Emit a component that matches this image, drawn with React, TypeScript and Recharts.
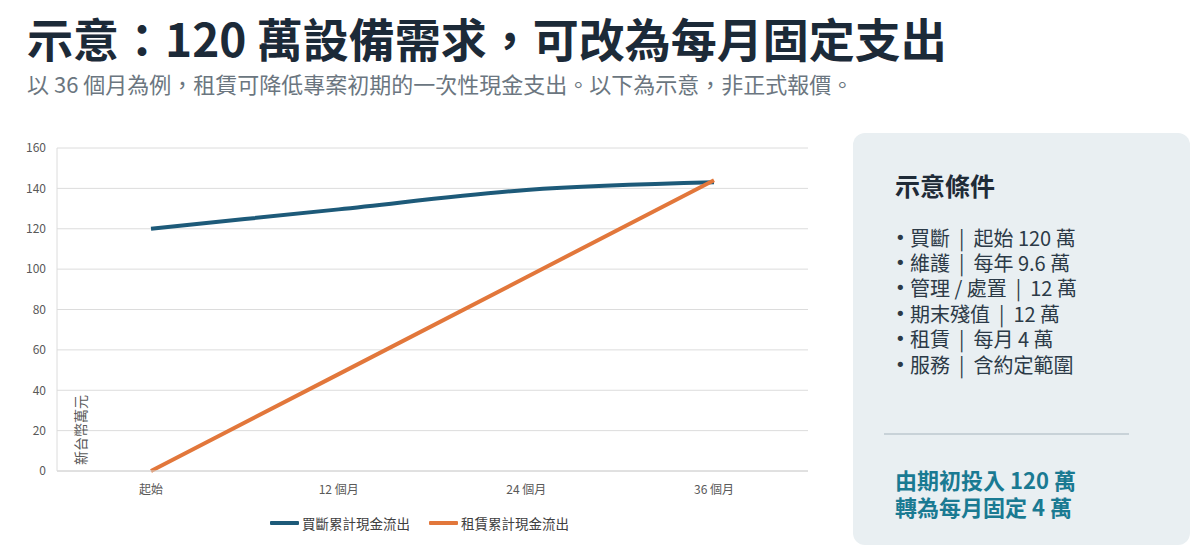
import { LineChart, Line, XAxis, YAxis, CartesianGrid, Legend } from "recharts"

const periods = ["起始", "12 個月", "24 個月", "36 個月"]
const buyCumulative = [120, 129.6, 139.2, 143]
const leaseCumulative = [0, 48, 96, 144]
const yTicks = [0, 20, 40, 60, 80, 100, 120, 140, 160]

const seriesNames = { buy: "買斷累計現金流出", lease: "租賃累計現金流出" }
const conditions = [
  ["買斷", "起始 120 萬"],
  ["維護", "每年 9.6 萬"],
  ["管理 / 處置", "12 萬"],
  ["期末殘值", "12 萬"],
  ["租賃", "每月 4 萬"],
  ["服務", "含約定範圍"],
]
const takeaway = ["由期初投入 120 萬", "轉為每月固定 4 萬"]

const data = periods.map((name, i) => ({
  name,
  buy: buyCumulative[i],
  lease: leaseCumulative[i],
}))

const FONT = '"Noto Sans CJK TC", "Noto Sans", sans-serif'
const BUY = "#1d5a79"
const LEASE = "#e2773b"

function ChartLegend() {
  const items = [
    { label: seriesNames.buy, color: BUY },
    { label: seriesNames.lease, color: LEASE },
  ]
  return (
    <div style={{ display: "flex", alignItems: "center", fontFamily: FONT, fontSize: 13.5, color: "#404040", lineHeight: "20px" }}>
      {items.map((it, i) => (
        <div key={it.label} style={{ display: "flex", alignItems: "center", marginRight: i === 0 ? 19 : 0 }}>
          <span style={{ display: "inline-block", width: 29, height: 4, background: it.color, marginRight: 3, borderRadius: 1 }} />
          <span>{it.label}</span>
        </div>
      ))}
    </div>
  )
}

export default function App() {
  return (
    <div style={{ position: "absolute", left: 0, top: 0, width: 1200, height: 553, background: "#fff", fontFamily: FONT, overflow: "hidden" }}>
      <div style={{ position: "absolute", left: 27, top: 12, fontSize: 46, fontWeight: 700, color: "#1c2a38", whiteSpace: "nowrap", lineHeight: "50px" }}>
        示意：120 萬設備需求，可改為每月固定支出
      </div>
      <div style={{ position: "absolute", left: 27, top: 70, fontSize: 22, color: "#6b7680", whiteSpace: "nowrap", lineHeight: "26px" }}>
        以 36 個月為例，租賃可降低專案初期的一次性現金支出。以下為示意，非正式報價。
      </div>

      <div style={{ position: "absolute", left: 0, top: 0 }}>
        <LineChart width={820} height={553} data={data} margin={{ top: 148, right: 12, left: 17, bottom: 32 }}>
          <CartesianGrid vertical={false} stroke="#dcdcdc" />
          <XAxis
            dataKey="name"
            padding={{ left: 94, right: 94 }}
            axisLine={{ stroke: "#d4d4d4" }}
            tickLine={false}
            tickMargin={8}
            height={30}
            tick={{ fill: "#595959", fontSize: 12, fontFamily: FONT }}
          />
          <YAxis
            width={40}
            domain={[0, 160]}
            ticks={yTicks}
            axisLine={{ stroke: "#dcdcdc" }}
            tickLine={false}
            tickMargin={5}
            tick={{ fill: "#595959", fontSize: 12, fontFamily: FONT }}
          />
          <Legend
            content={() => <ChartLegend />}
            wrapperStyle={{ left: 270, top: 513, width: 340 }}
          />
          <Line
            type="monotone"
            dataKey="buy"
            name={seriesNames.buy}
            stroke={BUY}
            strokeWidth={4}
            dot={false}
            isAnimationActive={false}
          />
          <Line
            type="linear"
            dataKey="lease"
            name={seriesNames.lease}
            stroke={LEASE}
            strokeWidth={4}
            dot={false}
            isAnimationActive={false}
          />
        </LineChart>
      </div>

      <div style={{ position: "absolute", left: 80, top: 430, transform: "translate(-50%, -50%) rotate(-90deg)", fontSize: 14, color: "#595959", whiteSpace: "nowrap", lineHeight: "16px" }}>
        新台幣萬元
      </div>

      <div style={{ position: "absolute", left: 853, top: 133, width: 337, height: 412, background: "#e9eff2", borderRadius: 12 }}>
        <div style={{ position: "absolute", left: 42, top: 36, fontSize: 25, fontWeight: 700, color: "#1f2b38", lineHeight: "32px" }}>示意條件</div>
        <div style={{ position: "absolute", left: 42, top: 92, fontSize: 20, color: "#2c3a47", lineHeight: "22px" }}>
          {conditions.map(([k, v]) => (
            <div key={k} style={{ whiteSpace: "nowrap", height: 25.4, display: "flex", alignItems: "center" }}>
              <span style={{ fontFamily: '"DejaVu Sans", sans-serif', fontSize: 18, width: 15 }}>•</span>
              <span>{k}</span>
              <span style={{ margin: "0 9px" }}>|</span>
              <span>{v}</span>
            </div>
          ))}
        </div>
        <div style={{ position: "absolute", left: 31, top: 300, width: 245, height: 2, background: "#c8d2d8" }} />
        <div style={{ position: "absolute", left: 42, top: 333, fontSize: 22, fontWeight: 700, color: "#1a7a92", lineHeight: "27px" }}>
          {takeaway.map((t) => (
            <div key={t} style={{ whiteSpace: "nowrap" }}>{t}</div>
          ))}
        </div>
      </div>
    </div>
  )
}
